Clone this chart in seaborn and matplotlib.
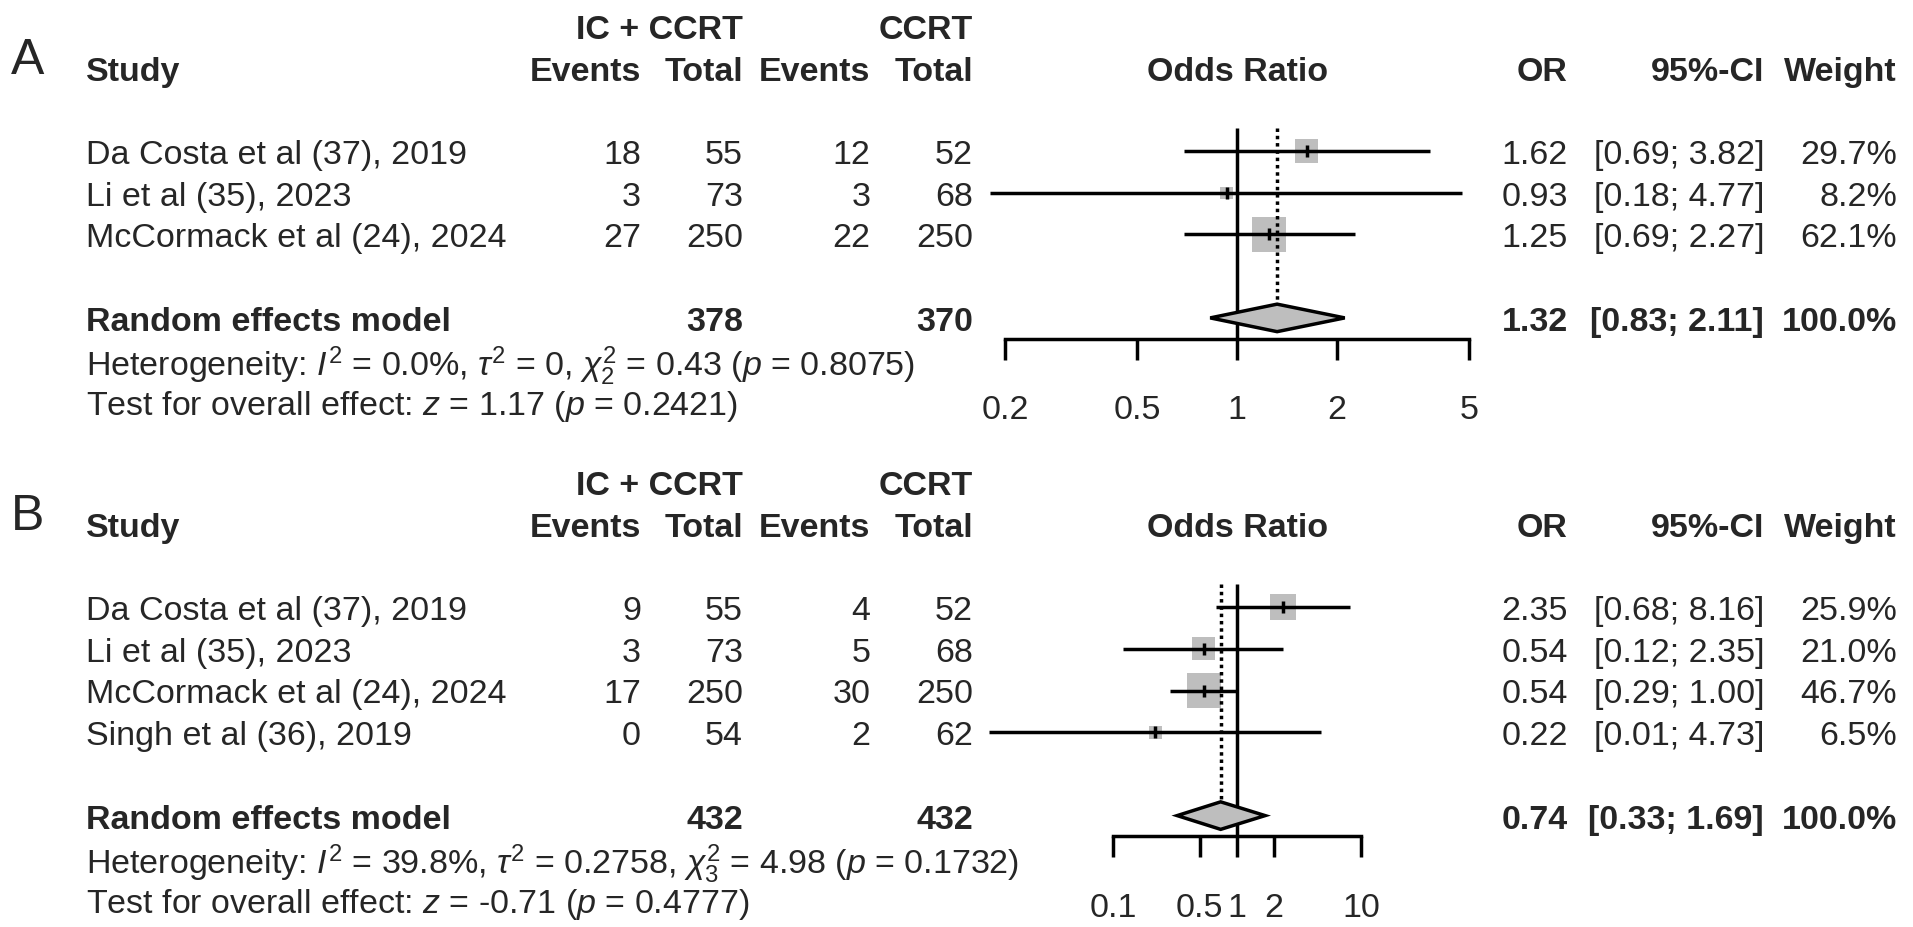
"""
Forest plots (R meta style) : IC + CCRT vs CCRT, odds ratios
Panel A and panel B redrawn with matplotlib / seaborn
"""

import numpy as np
import pandas as pd
import matplotlib
matplotlib.use("Agg")
import matplotlib.pyplot as plt
import matplotlib.transforms as mtransforms
from matplotlib.ticker import NullLocator, FixedLocator, FixedFormatter
import seaborn as sns

# ========== Panel A ==========
studies_a = ["Da Costa et al (37), 2019", "Li et al (35), 2023", "McCormack et al (24), 2024"]
ic_events_a = [18, 3, 27]
ic_total_a = [55, 73, 250]
cc_events_a = [12, 3, 22]
cc_total_a = [52, 68, 250]
or_a = [1.62, 0.93, 1.25]
lo_a = [0.69, 0.18, 0.69]
hi_a = [3.82, 4.77, 2.27]
weight_a = [29.7, 8.2, 62.1]
pooled_a = [1.32, 0.83, 2.11]
totals_a = [378, 370]
het_a = r"Heterogeneity: $I^2$ = 0.0%, $\tau^2$ = 0, $\chi^2_2$ = 0.43 ($p$ = 0.8075)"
test_a = r"Test for overall effect: $z$ = 1.17 ($p$ = 0.2421)"
ticks_a = [0.2, 0.5, 1, 2, 5]
ticklabels_a = ["0.2", "0.5", "1", "2", "5"]

# ========== Panel B ==========
studies_b = ["Da Costa et al (37), 2019", "Li et al (35), 2023", "McCormack et al (24), 2024",
             "Singh et al (36), 2019"]
ic_events_b = [9, 3, 17, 0]
ic_total_b = [55, 73, 250, 54]
cc_events_b = [4, 5, 30, 2]
cc_total_b = [52, 68, 250, 62]
or_b = [2.35, 0.54, 0.54, 0.22]
lo_b = [0.68, 0.12, 0.29, 0.01]
hi_b = [8.16, 2.35, 1.00, 4.73]
weight_b = [25.9, 21.0, 46.7, 6.5]
pooled_b = [0.74, 0.33, 1.69]
totals_b = [432, 432]
het_b = r"Heterogeneity: $I^2$ = 39.8%, $\tau^2$ = 0.2758, $\chi^2_3$ = 4.98 ($p$ = 0.1732)"
test_b = r"Test for overall effect: $z$ = -0.71 ($p$ = 0.4777)"
ticks_b = [0.1, 0.5, 1, 2, 10]
ticklabels_b = ["0.1", "0.5", "1", "2", "10"]

sns.set_style("white")
plt.rcParams["font.family"] = ["Liberation Sans", "DejaVu Sans"]
plt.rcParams["mathtext.fontset"] = "custom"
plt.rcParams["mathtext.rm"] = "Liberation Sans"
plt.rcParams["mathtext.it"] = "Liberation Sans:italic"
plt.rcParams["mathtext.bf"] = "Liberation Sans:bold"

W, H = 1913, 928
FS = 24.5
GREY = "#bebebe"
LW = 2.5
ROW_H = 41.7
PLOT_LEFT, PLOT_RIGHT = 985, 1490

# bords des colonnes de texte (pixels)
X_STUDY = 86
X_EV1, X_N1, X_EV2, X_N2 = 641, 743, 870.5, 973
X_OR, X_CI, X_W = 1568, 1764, 1897

fig = plt.figure(figsize=(W / 100, H / 100), dpi=100)


def fx(px):
    return px / W


def forest(label, top_px, studies, ev1, n1, ev2, n2, est, lo, hi, wt, pooled, totals,
           het, test, ticks, ticklabels, xlim):
    n = len(studies)
    first = 3
    re_row = first + n + 1
    nrows = re_row + 3
    height = nrows * ROW_H
    ax = fig.add_axes([fx(PLOT_LEFT), 1 - (top_px + height) / H,
                       fx(PLOT_RIGHT) - fx(PLOT_LEFT), height / H])
    ax.set_xscale("log")
    rows = np.arange(first, first + n)

    # carrés (aire proportionnelle au poids)
    df = pd.DataFrame({"est": est, "row": rows, "w": wt})
    wmax = max(wt)
    sns.scatterplot(data=df, x="est", y="row", size="w",
                    sizes={w: 600 * w / wmax for w in wt},
                    marker="s", color=GREY, edgecolor=GREY, linewidth=0,
                    legend=False, ax=ax, zorder=2)
    ax.set_xlabel("")
    ax.set_ylabel("")

    # intervalles de confiance
    ax.hlines(rows, lo, hi, color="black", lw=LW, zorder=3)
    ax.scatter(est, rows, marker="|", s=80, color="black", linewidths=LW, zorder=4)

    # lignes de référence
    ax.vlines(1, first - 0.55, re_row + 0.5, color="black", lw=LW, zorder=3)
    ax.vlines(pooled[0], first - 0.55, re_row - 0.33, color="black", lw=LW,
              linestyles=(0, (1, 1.1)), zorder=3)

    # diamant du modèle à effets aléatoires
    ax.fill([pooled[1], pooled[0], pooled[2], pooled[0]],
            [re_row, re_row - 0.33, re_row, re_row + 0.33],
            facecolor=GREY, edgecolor="black", lw=LW, zorder=4)

    ax.set_xlim(*xlim)
    ax.set_ylim(nrows - 0.5, -0.5)
    for s in ["top", "right", "left"]:
        ax.spines[s].set_visible(False)
    ax.spines["bottom"].set_position(("data", re_row + 0.5))
    ax.spines["bottom"].set_bounds(ticks[0], ticks[-1])
    ax.spines["bottom"].set_linewidth(LW)
    ax.spines["bottom"].set_color("black")
    ax.spines["bottom"].set_capstyle("projecting")
    ax.xaxis.set_major_locator(FixedLocator(ticks))
    ax.xaxis.set_major_formatter(FixedFormatter(ticklabels))
    ax.xaxis.set_minor_locator(NullLocator())
    ax.tick_params(axis="x", bottom=True, direction="out", length=15, width=LW,
                   pad=25, labelsize=FS, color="black")
    ax.set_yticks([])
    ax.patch.set_alpha(0)

    tr = mtransforms.blended_transform_factory(fig.transFigure, ax.transData)

    def put(px, row, s, ha="right", bold=False):
        ax.text(fx(px), row, s, transform=tr, ha=ha, va="center_baseline",
                fontsize=FS, fontweight="bold" if bold else "normal")

    # en-têtes
    put(X_N1, 0, "IC + CCRT", bold=True)
    put(X_N2, 0, "CCRT", bold=True)
    put(X_STUDY, 1, "Study", ha="left", bold=True)
    put(X_EV1, 1, "Events", bold=True)
    put(X_N1, 1, "Total", bold=True)
    put(X_EV2, 1, "Events", bold=True)
    put(X_N2, 1, "Total", bold=True)
    ax.text(0.5, 1, "Odds Ratio",
            transform=mtransforms.blended_transform_factory(ax.transAxes, ax.transData),
            ha="center", va="center_baseline", fontsize=FS, fontweight="bold")
    put(X_OR, 1, "OR", bold=True)
    put(X_CI, 1, "95%-CI", bold=True)
    put(X_W, 1, "Weight", bold=True)

    # études
    for i, r in enumerate(rows):
        put(X_STUDY, r, studies[i], ha="left")
        put(X_EV1, r, str(ev1[i]))
        put(X_N1, r, str(n1[i]))
        put(X_EV2, r, str(ev2[i]))
        put(X_N2, r, str(n2[i]))
        put(X_OR, r, f"{est[i]:.2f}")
        put(X_CI, r, f"[{lo[i]:.2f}; {hi[i]:.2f}]")
        put(X_W, r, f"{wt[i]:.1f}%")

    # modèle poolé
    put(X_STUDY, re_row, "Random effects model", ha="left", bold=True)
    put(X_N1, re_row, str(totals[0]), bold=True)
    put(X_N2, re_row, str(totals[1]), bold=True)
    put(X_OR, re_row, f"{pooled[0]:.2f}", bold=True)
    put(X_CI, re_row, f"[{pooled[1]:.2f}; {pooled[2]:.2f}]", bold=True)
    put(X_W, re_row, "100.0%", bold=True)
    put(X_STUDY, re_row + 1, het, ha="left")
    put(X_STUDY, re_row + 2, test, ha="left")

    # lettre du panneau
    fig.text(fx(11), 1 - (top_px + 1.2 * ROW_H) / H, label, fontsize=36,
             ha="left", va="center_baseline")
    return ax


forest("A", 27 - ROW_H / 2, studies_a, ic_events_a, ic_total_a, cc_events_a, cc_total_a,
       or_a, lo_a, hi_a, weight_a, pooled_a, totals_a, het_a, test_a,
       ticks_a, ticklabels_a, (0.174, 5.78))
forest("B", 483 - ROW_H / 2, studies_b, ic_events_b, ic_total_b, cc_events_b, cc_total_b,
       or_b, lo_b, hi_b, weight_b, pooled_b, totals_b, het_b, test_b,
       ticks_b, ticklabels_b, (0.0093, 110))

fig.savefig("out.png", dpi=100)
plt.close(fig)
